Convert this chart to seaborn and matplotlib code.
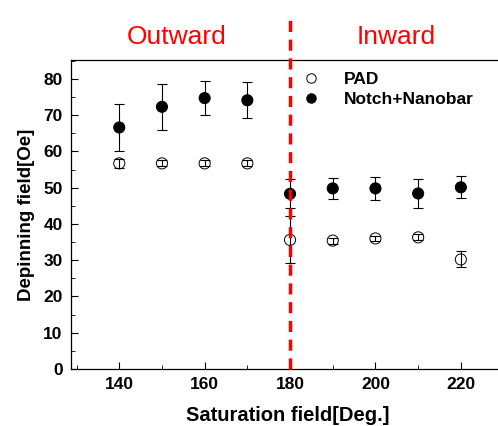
import numpy as np
import pandas as pd
import matplotlib
matplotlib.use("Agg")
import matplotlib.pyplot as plt
import seaborn as sns
from matplotlib.ticker import MultipleLocator

# --- Data ---
sat_field = [140, 150, 160, 170, 180, 190, 200, 210, 220]
pad_vals = [56.7, 56.7, 56.7, 56.7, 35.6, 35.4, 36.0, 36.3, 30.2]
pad_err = [1.2, 0.8, 0.8, 0.8, 6.5, 0.8, 0.8, 0.8, 2.2]
notch_vals = [66.6, 72.3, 74.7, 74.1, 48.3, 49.8, 49.8, 48.4, 50.1]
notch_err = [6.4, 6.4, 4.8, 5.0, 4.0, 3.0, 3.1, 4.1, 3.0]
series_names = ["PAD", "Notch+Nanobar"]
region_labels = ["Outward", "Inward"]

df = pd.DataFrame({
    "Saturation": sat_field * 2,
    "Depinning": pad_vals + notch_vals,
    "err": pad_err + notch_err,
    "Series": [series_names[0]] * len(sat_field) + [series_names[1]] * len(sat_field),
})

sns.set_style("ticks", {"axes.edgecolor": "black", "text.color": "black",
                        "axes.labelcolor": "black", "xtick.color": "black",
                        "ytick.color": "black"})
plt.rcParams['font.family'] = ['Liberation Sans', 'DejaVu Sans']

W, H = 498, 426
x0, x1 = 128.7, 230.0
px_per_unit = 4.27
ax_w = (x1 - x0) * px_per_unit
fig = plt.figure(figsize=(W / 100, H / 100), dpi=100)
ax = fig.add_axes([71 / W, (H - 369) / H, ax_w / W, (369 - 60) / H])

sns.scatterplot(data=df, x="Saturation", y="Depinning", hue="Series", style="Series",
                palette={"PAD": "white", "Notch+Nanobar": "black"},
                markers={"PAD": "o", "Notch+Nanobar": "o"},
                edgecolor="black", linewidth=0.7, s=64, ax=ax, zorder=3)

# error bars drawn over the markers (gives the crossed look on small PAD bars)
for name in series_names:
    sub = df[df["Series"] == name]
    ax.errorbar(sub["Saturation"], sub["Depinning"], yerr=sub["err"], fmt="none",
                ecolor="black", elinewidth=0.8, capsize=3.8, capthick=0.8, zorder=4)

ax.axvline(180, color="red", lw=2.5, ls=(0, (3.2, 2.2)), ymin=0, ymax=(369 - 15) / (369 - 60),
           clip_on=False, zorder=5)

ax.set_xlim(x0, x1)
ax.set_ylim(0, 85.2)
ax.xaxis.set_major_locator(MultipleLocator(20))
ax.xaxis.set_minor_locator(MultipleLocator(10))
ax.yaxis.set_major_locator(MultipleLocator(10))
ax.yaxis.set_minor_locator(MultipleLocator(5))
ax.spines["right"].set_visible(False)
for sp in ax.spines.values():
    sp.set_linewidth(0.9)
ax.tick_params(which="both", direction="in", top=False, right=False)
ax.tick_params(which="major", length=5, labelsize=12.5, pad=6)
ax.tick_params(which="minor", length=3)
for lbl in ax.get_xticklabels() + ax.get_yticklabels():
    lbl.set_fontweight("bold")

ax.set_xlabel("Saturation field[Deg.]", fontsize=14.5, fontweight="bold", labelpad=10)
ax.set_ylabel("Depinning field[Oe]", fontsize=13.5, fontweight="bold", labelpad=6)

fig.text(177 / W, 1 - 37 / H, region_labels[0], color="red", fontsize=19,
         ha="center", va="center")
fig.text(396 / W, 1 - 37 / H, region_labels[1], color="red", fontsize=19,
         ha="center", va="center")

leg = ax.legend(loc="upper left", bbox_to_anchor=((281 - 71) / ax_w, 1.0),
                frameon=False, prop={"weight": "bold", "size": 12.5}, handletextpad=0.9,
                labelspacing=0.25, markerscale=0.85, borderaxespad=0.3)

fig.savefig("out.png", dpi=100)
